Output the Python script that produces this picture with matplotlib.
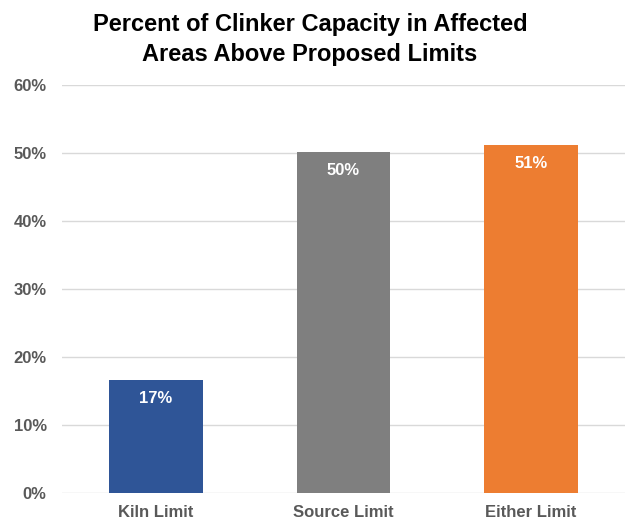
import matplotlib.pyplot as plt
from matplotlib.ticker import PercentFormatter

categories = ["Kiln Limit", "Source Limit", "Either Limit"]
values = [16.6, 50.1, 51.2]
colors = ["#2F5597", "#7F7F7F", "#ED7D31"]

plt.rcParams['font.family'] = ['Liberation Sans', 'DejaVu Sans']

fig = plt.figure(figsize=(6.29, 5.22), dpi=100)
ax = fig.add_axes([0.0986, 0.0556, 0.895, 0.7816])

x = range(len(categories))
bars = ax.bar(x, values, width=0.5, color=colors, zorder=3)

for b, v in zip(bars, values):
    ax.text(b.get_x() + b.get_width() / 2, v - 1.6, "{:.0f}%".format(v),
            ha="center", va="top", color="white", fontsize=12, fontweight="bold")

ax.set_xlim(-0.5, 2.5)
ax.set_ylim(0, 60)
ax.set_yticks(range(0, 61, 10))
ax.yaxis.set_major_formatter(PercentFormatter(decimals=0))
ax.set_xticks(list(x))
ax.set_xticklabels(categories)

ax.grid(axis="y", color="#d9d9d9", linewidth=1, zorder=0)
for s in ax.spines.values():
    s.set_visible(False)
ax.tick_params(length=0, labelsize=12, labelcolor="#595959")
ax.tick_params(axis="y", pad=11)
ax.tick_params(axis="x", pad=9)
for t in ax.get_xticklabels() + ax.get_yticklabels():
    t.set_fontweight("bold")

fig.text(0.493, 0.975, "Percent of Clinker Capacity in Affected\nAreas Above Proposed Limits",
         ha="center", va="top", fontsize=17, fontweight="bold", linespacing=1.4)

fig.savefig("out.png")
